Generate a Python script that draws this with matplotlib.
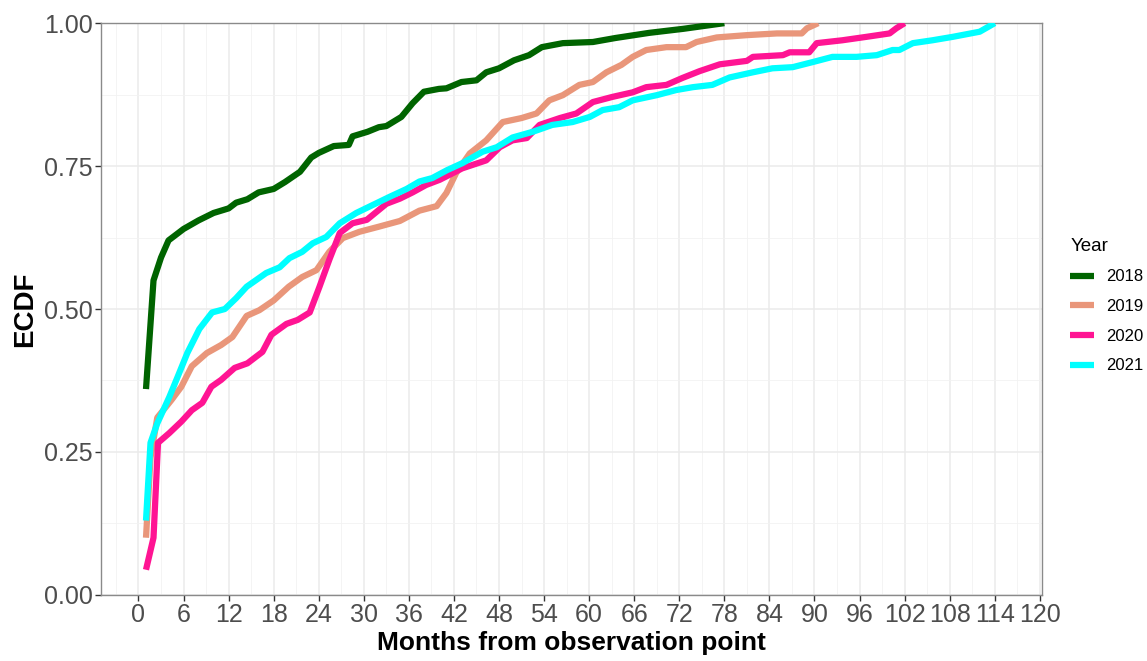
import numpy as np
import matplotlib
matplotlib.use("Agg")
import matplotlib.pyplot as plt
from matplotlib.ticker import MultipleLocator

plt.rcParams['font.family'] = ['Liberation Sans', 'DejaVu Sans']

# ECDF values
months_2018 = [1, 2, 3, 4, 6, 8, 10, 12, 13, 14.5, 16, 18, 19.5, 21.5, 23, 24, 26, 28, 28.5, 30.5,
               32, 33, 35, 36.5, 38, 40, 41, 43, 45, 46.3, 48, 50, 52, 53.7, 56.5, 60.5, 63.5, 68, 72.5, 78]
ecdf_2018 = [0.36, 0.55, 0.59, 0.62, 0.64, 0.655, 0.668, 0.676, 0.686, 0.692, 0.704, 0.71, 0.722, 0.74,
             0.765, 0.773, 0.785, 0.787, 0.802, 0.81, 0.818, 0.82, 0.836, 0.86, 0.88, 0.885, 0.886, 0.897,
             0.90, 0.914, 0.921, 0.935, 0.944, 0.958, 0.965, 0.967, 0.974, 0.983, 0.99, 1.0]

months_2019 = [1, 1.6, 2.5, 4.4, 5.7, 7.1, 9.1, 11, 12.5, 14.4, 16.1, 18, 20, 21.8, 23.7, 25.4, 27.2, 29.4,
               32, 34.8, 37.4, 39.7, 41, 42.3, 44.1, 46.3, 48.5, 51, 53, 54.7, 56.5, 58.7, 60.5, 62.3,
               64.3, 65.8, 67.6, 70.3, 72.9, 74.3, 77, 81, 85, 88.3, 89, 90.5]
ecdf_2019 = [0.10, 0.24, 0.31, 0.341, 0.364, 0.40, 0.423, 0.437, 0.451, 0.488, 0.498, 0.515, 0.539, 0.556,
             0.568, 0.60, 0.624, 0.635, 0.644, 0.654, 0.672, 0.68, 0.703, 0.738, 0.772, 0.795, 0.827,
             0.834, 0.842, 0.865, 0.874, 0.892, 0.897, 0.914, 0.927, 0.941, 0.953, 0.958, 0.958, 0.967,
             0.975, 0.979, 0.982, 0.982, 0.991, 1.0]

months_2020 = [1, 2, 2.6, 4.1, 5.7, 7.1, 8.5, 9.7, 11, 12.8, 14.5, 16.5, 17.7, 19.7, 21.2, 22.8, 24.1,
               25.4, 26.8, 28.5, 30.4, 31.7, 33, 34.8, 36.5, 38.3, 40.1, 43.1, 46.3, 48.1, 49.8, 51.7,
               53.4, 56.1, 58.3, 60.5, 63.1, 65.8, 67.6, 70.3, 72.4, 74.7, 77.4, 81, 81.8, 85.8, 86.7,
               89.3, 90.3, 93.7, 96.9, 100, 100.9, 102]
ecdf_2020 = [0.044, 0.10, 0.266, 0.283, 0.303, 0.323, 0.336, 0.364, 0.376, 0.397, 0.405, 0.425, 0.455,
             0.474, 0.481, 0.494, 0.539, 0.586, 0.633, 0.65, 0.656, 0.67, 0.684, 0.693, 0.704, 0.717,
             0.726, 0.746, 0.76, 0.783, 0.795, 0.799, 0.822, 0.834, 0.842, 0.862, 0.871, 0.879, 0.888,
             0.892, 0.904, 0.916, 0.928, 0.934, 0.941, 0.944, 0.949, 0.949, 0.965, 0.97, 0.976, 0.982,
             0.991, 1.0]

months_2021 = [1, 1.6, 2.5, 4.1, 5.2, 6.5, 8.1, 9.8, 11.5, 13, 14.4, 15.7, 17, 18.8, 20.1, 21.8, 23.2,
               25, 26.8, 29, 31.2, 33.4, 35.7, 37.4, 39.1, 41.1, 43.1, 45.8, 47.7, 49.8, 52.5, 55.1,
               57.8, 60.1, 61.8, 64, 65.8, 69, 71.6, 73.8, 76.4, 78.7, 81.8, 84.4, 87.1, 89.8, 92.4,
               95.6, 98.3, 100.4, 101.3, 103.1, 105.7, 108.4, 112, 114]
ecdf_2021 = [0.13, 0.266, 0.30, 0.346, 0.381, 0.423, 0.465, 0.494, 0.50, 0.519, 0.539, 0.551, 0.563,
             0.573, 0.589, 0.60, 0.615, 0.626, 0.65, 0.668, 0.682, 0.696, 0.71, 0.723, 0.729, 0.743,
             0.755, 0.775, 0.783, 0.80, 0.81, 0.822, 0.827, 0.836, 0.848, 0.853, 0.865, 0.874, 0.883,
             0.888, 0.892, 0.905, 0.914, 0.921, 0.923, 0.932, 0.941, 0.941, 0.944, 0.953, 0.953,
             0.965, 0.97, 0.976, 0.985, 1.0]

years = ['2018', '2019', '2020', '2021']
colors = ['#006400', '#E9967A', '#FF1493', '#00FFFF']
series = [(months_2018, ecdf_2018), (months_2019, ecdf_2019),
          (months_2020, ecdf_2020), (months_2021, ecdf_2021)]

fig = plt.figure(figsize=(11.47, 6.61), dpi=100)
ax = fig.add_axes([0.088, 0.1, 0.8205, 0.865])

for (m, v), c, yr in zip(series, colors, years):
    ax.plot(m, v, color=c, lw=4.5, label=yr, solid_capstyle='butt', solid_joinstyle='round', zorder=3)

ax.set_xlim(-5, 120.3)
ax.set_ylim(0, 1)
ax.xaxis.set_major_locator(MultipleLocator(6))
ax.xaxis.set_minor_locator(MultipleLocator(3))
ax.yaxis.set_major_locator(MultipleLocator(0.25))
ax.yaxis.set_minor_locator(MultipleLocator(0.125))
ax.yaxis.set_major_formatter(plt.FuncFormatter(lambda v, p: f"{v:.2f}"))

ax.grid(which='major', color='#EBEBEB', lw=1.1, zorder=0)
ax.grid(which='minor', color='#F2F2F2', lw=0.6, zorder=0)
ax.set_axisbelow(True)
for s in ax.spines.values():
    s.set_color('#8A8A8A')
    s.set_linewidth(1.0)

ax.tick_params(which='major', length=4, width=1, color='#333333', labelsize=18, labelcolor='#4D4D4D', pad=2)
ax.tick_params(which='minor', length=0)

ax.set_xlabel('Months from observation point', fontsize=19, fontweight='bold', labelpad=3)
ax.set_ylabel('ECDF', fontsize=20, fontweight='bold', labelpad=4)

leg = fig.legend(loc='upper left', bbox_to_anchor=(0.92, 0.663), title='Year', frameon=False,
                 fontsize=12, title_fontsize=13.5, handlelength=1.45, handletextpad=0.7,
                 labelspacing=0.88)
leg._legend_box.align = 'left'

fig.savefig('out.png', dpi=100)
